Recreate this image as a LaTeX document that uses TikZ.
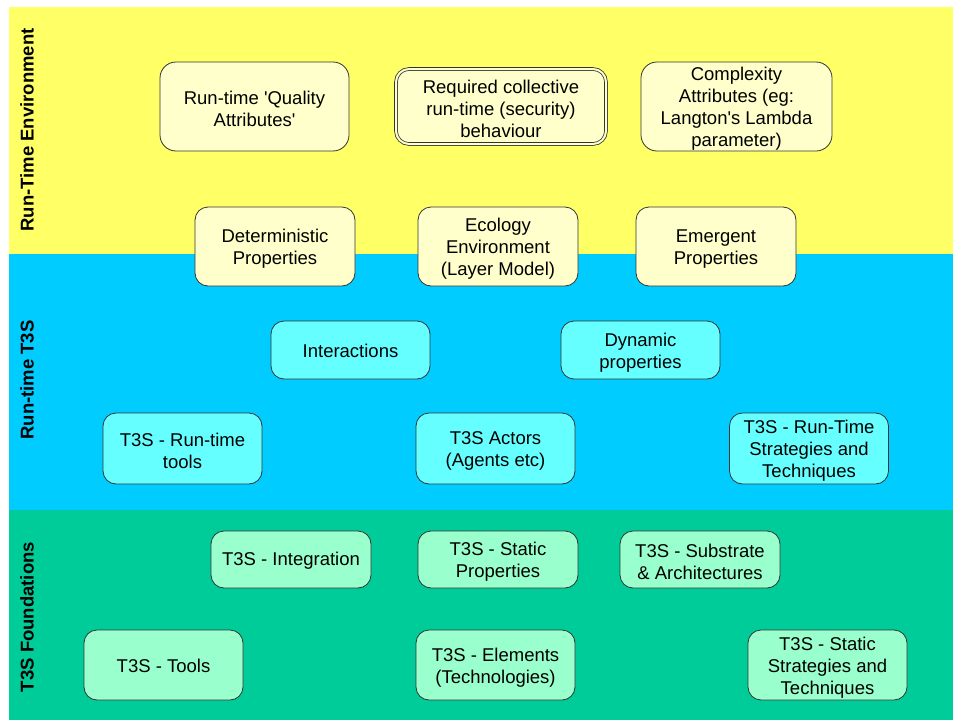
\documentclass[tikz,border=0pt]{standalone}
\usepackage{fontspec}
\setmainfont{Liberation Sans}
\definecolor{bandY}{HTML}{FFFF66}
\definecolor{bandB}{HTML}{00CCFF}
\definecolor{bandG}{HTML}{00CC99}
\definecolor{boxY}{HTML}{FFFFCC}
\definecolor{boxB}{HTML}{66FFFF}
\definecolor{boxG}{HTML}{99FFCC}
\definecolor{edge}{HTML}{333333}
\newcommand\bx[5]{\node[#1] (#2) at #3 {}; \node[txt, yshift=#4] (#2t) at (#2.center) {#5};}
\begin{document}
\begin{tikzpicture}[x=1pt,y=-1pt,
  box/.style={draw=edge, line width=0.8pt, rounded corners=13pt, inner sep=0pt, minimum width=159pt},
  txt/.style={align=center, inner sep=0pt, font=\fontsize{18.5}{22}\selectfont},
  ybox/.style={box, fill=boxY},
  bbox/.style={box, fill=boxB},
  gbox/.style={box, fill=boxG},
  bandlabel/.style={rotate=90, font=\bfseries\fontsize{18.5}{22}\selectfont, inner sep=0pt}]
\useasboundingbox (0,0) rectangle (953,720);
\fill[white] (0,0) rectangle (953,720);
\fill[bandY] (9,7) rectangle (953,254);
\fill[bandB] (9,254) rectangle (953,510);
\fill[bandG] (9,510) rectangle (953,720);
\node[bandlabel] (lab1) at (27,130) {Run-Time Environment};
\node[bandlabel] (lab2) at (27,380) {Run-time T3S};
\node[bandlabel] (lab3) at (27,617) {T3S Foundations};
% yellow
\bx{ybox, minimum width=189pt, minimum height=89pt, rounded corners=16pt}{qa}{(254.5,106.5)}{-2.5pt}{Run-time \textquotesingle Quality\\Attributes\textquotesingle}
\bx{ybox, minimum width=210pt, minimum height=75pt, double=boxY, double distance=2pt}{rc}{(501,106.5)}{-2.5pt}{Required collective\\run-time (security)\\behaviour}
\bx{ybox, minimum width=191pt, minimum height=89pt, rounded corners=16pt}{ca}{(736.5,106.5)}{-2.5pt}{Complexity\\Attributes (eg:\\Langton\textquotesingle s Lambda\\parameter)}
\bx{ybox, minimum width=160pt, minimum height=79pt}{dp}{(275,246.5)}{-2.5pt}{Deterministic\\Properties}
\bx{ybox, minimum width=160pt, minimum height=79pt}{ee}{(498,246.5)}{-2.5pt}{Ecology\\Environment\\(Layer Model)}
\bx{ybox, minimum width=160pt, minimum height=79pt}{ep}{(716,246.5)}{-2.5pt}{Emergent\\Properties}
% blue
\bx{bbox, minimum height=58pt}{in}{(350.5,350)}{-1pt}{Interactions}
\bx{bbox, minimum height=58pt}{dy}{(640.5,350)}{-2.5pt}{Dynamic\\properties}
\bx{bbox, minimum height=71pt}{rt}{(182.5,448.5)}{-2.5pt}{T3S - Run-time\\tools}
\bx{bbox, minimum height=71pt}{ac}{(495.5,448.5)}{-2.5pt}{T3S Actors\\(Agents etc)}
\bx{bbox, minimum height=71pt}{rs}{(809,448.5)}{-2.5pt}{T3S - Run-Time\\Strategies and\\Techniques}
% green
\bx{gbox, minimum width=160pt, minimum height=57pt}{ig}{(291,559.5)}{-1pt}{T3S - Integration}
\bx{gbox, minimum width=160pt, minimum height=57pt}{sp}{(498,559.5)}{-2.5pt}{T3S - Static\\Properties}
\bx{gbox, minimum width=160pt, minimum height=57pt}{sa}{(700,559.5)}{-2.5pt}{T3S - Substrate\\\& Architectures}
\bx{gbox, minimum height=70pt}{tl}{(163.5,665)}{-1pt}{T3S - Tools}
\bx{gbox, minimum height=70pt}{el}{(495.5,665)}{-2.5pt}{T3S - Elements\\(Technologies)}
\bx{gbox, minimum height=70pt}{ss}{(827.5,665)}{-2.5pt}{T3S - Static\\Strategies and\\Techniques}
\end{tikzpicture}
\end{document}
